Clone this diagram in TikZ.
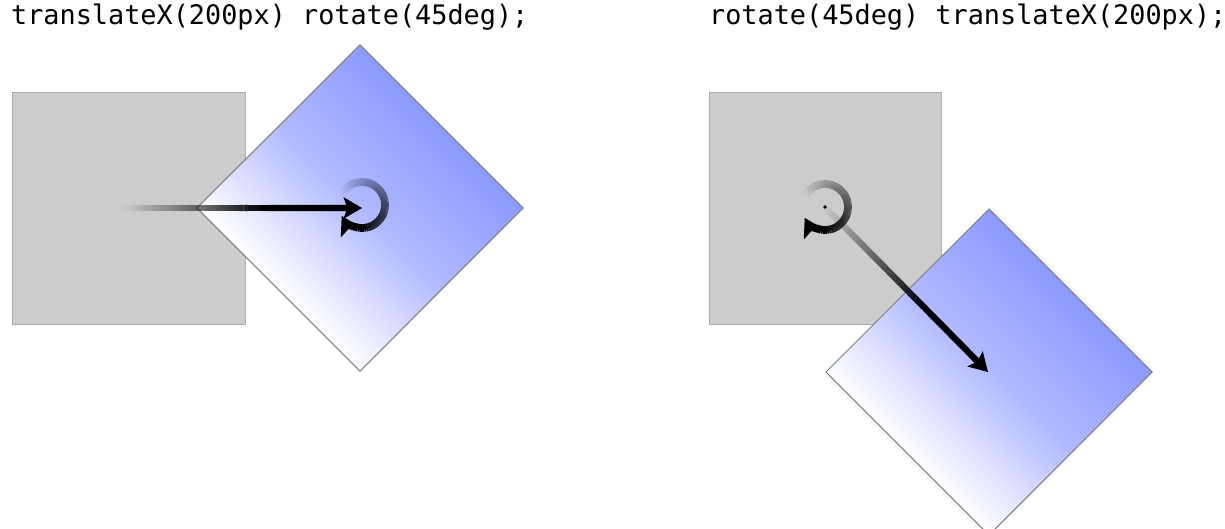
\documentclass[tikz,border=0pt]{standalone}
\usepackage{fontspec}
\newfontfamily\codefont{DejaVu Sans Mono}
\usetikzlibrary{arrows.meta,calc}
\definecolor{squaregray}{RGB}{204,204,204}
\definecolor{squareedge}{RGB}{172,172,172}
\definecolor{diamondblue}{RGB}{140,154,255}
\definecolor{diamondedge}{RGB}{125,125,125}
\begin{document}
\begin{tikzpicture}[
    x=0.05cm, y=-0.05cm,
    code/.style={
        anchor=base west,
        inner sep=0pt,
        font=\codefont\fontsize{38.2}{40}\selectfont
    },
    box/.style={
        fill=squaregray,
        draw=squareedge,
        line width=1.4pt
    },
    turned/.style={
        draw=diamondedge,
        line width=1.4pt,
        left color=white,
        right color=diamondblue,
        middle color=diamondblue!68!white
    },
    shaft/.style={line width=9pt, black},
    ring/.style={line width=11pt, black},
    head/.style={-{Stealth[length=26pt, width=30pt, inset=5pt]}}
]

\useasboundingbox (0,0) rectangle (1225,529);
\clip (0,0) rectangle (1225,529);

\node[code] (leftcode) at (11,25) {translateX(200px) rotate(45deg);};
\node[code] (rightcode) at (709,25) {rotate(45deg) translateX(200px);};

% before the transform
\draw[box] (12,92) rectangle (245,324);
\draw[box] (709,92) rectangle (941,324);

% after the transform
\coordinate (lc) at (360,208);
\coordinate (rc) at (989,372);
\foreach \c in {lc,rc} {
    \begin{scope}[transform canvas={rotate around={45:(\c)}}]
        \draw[turned] ($(\c)+(-115.3,-115.3)$) rectangle ($(\c)+(115.3,115.3)$);
    \end{scope}
}

% moves
\coordinate (lo) at (362,205);
\coordinate (ro) at (825,207);
\coordinate (lstart) at (125,208);
\coordinate (lend) at (362,208);
\coordinate (rend) at (988,372);

\foreach \s/\e/\f in {lstart/lend/0.6, ro/rend/0.62} {
    \foreach \i in {0,...,29} {
        \pgfmathsetmacro\op{(\i+1)/30}
        \draw[shaft, opacity=\op] ($(\s)!{\i/30*\f}!(\e)$) -- ($(\s)!{(\i+1)/30*\f}!(\e)$);
    }
    \draw[shaft, head] ($(\s)!\f!(\e)$) -- (\e);
}

% turns
\foreach \o in {lo,ro} {
    \foreach \i in {0,...,49} {
        \pgfmathsetmacro\a{-150+5*\i}
        \pgfmathsetmacro\op{(\i+1)/50}
        \draw[ring, opacity=\op] ([shift={(\a:23)}]\o) arc[start angle=\a, delta angle=5, radius=23];
    }
    \draw[ring, head] ([shift={(100:23)}]\o) arc[start angle=100, end angle=152, radius=23];
}
\fill (ro) circle[radius=1.8];

\end{tikzpicture}
\end{document}
